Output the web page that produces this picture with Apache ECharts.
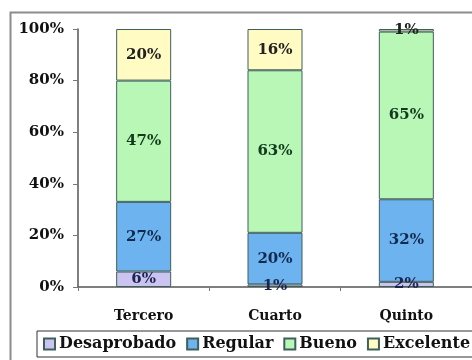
<!DOCTYPE html>
<html>
<head>
<meta charset="utf-8">
<script src="https://cdn.jsdelivr.net/npm/echarts@6/dist/echarts.min.js"></script>
<style>
  html, body { margin: 0; padding: 0; background: #fff; }
  #chart { width: 472px; height: 360px; }
</style>
</head>
<body>
<div id="chart"></div>
<script>
// Grade levels on the category axis
const categories = ['Tercero', 'Cuarto', 'Quinto'];

// Share of students per performance band (percent)
const desaprobado = [6, 1, 2];
const regular = [27, 20, 32];
const bueno = [47, 63, 65];
const excelente = [20, 16, 1];

const yTicks = { min: 0, max: 100, interval: 20 };

const serif = '"DejaVu Serif", "Liberation Serif", serif';

function band(name, data, fill, textColor) {
  return {
    name: name,
    type: 'bar',
    stack: 'total',
    data: data,
    barWidth: 55,
    itemStyle: { color: fill, borderColor: '#3f5f5c', borderWidth: 1 },
    label: {
      show: true,
      position: 'inside',
      formatter: '{c}%',
      fontFamily: serif,
      fontWeight: 'bold',
      fontSize: 15,
      color: textColor
    }
  };
}

const chart = echarts.init(document.getElementById('chart'));
chart.setOption({
  animation: false,
  backgroundColor: '#fff',
  graphic: [{
    type: 'rect',
    shape: { x: 10.5, y: 12.5, width: 480, height: 360 },
    style: { fill: 'none', stroke: '#8c8c8c', lineWidth: 2 },
    z: -1
  }],
  grid: { left: 78, right: -2, top: 29, bottom: 73 },
  legend: {
    left: 37,
    top: 331,
    width: 520,
    orient: 'horizontal',
    itemGap: 10,
    itemWidth: 11,
    itemHeight: 11,
    padding: [5, 8, 5, 6],
    borderColor: '#333',
    borderWidth: 1,
    icon: 'rect',
    textStyle: { fontFamily: serif, fontWeight: 'bold', fontSize: 16, color: '#111', padding: [0, 0, 0, -1] },
    data: ['Desaprobado', 'Regular', 'Bueno', 'Excelente']
  },
  xAxis: {
    type: 'category',
    data: categories,
    axisLine: { lineStyle: { color: '#555', width: 1.5 } },
    axisTick: { show: true, length: 4, lineStyle: { color: '#777' } },
    axisLabel: { fontFamily: serif, fontWeight: 'bold', fontSize: 14, color: '#111', margin: 22 }
  },
  yAxis: {
    type: 'value',
    min: yTicks.min,
    max: yTicks.max,
    interval: yTicks.interval,
    splitLine: { show: false },
    axisLine: { show: true, lineStyle: { color: '#555', width: 1.5 } },
    axisTick: { show: true, length: 5, lineStyle: { color: '#777' } },
    axisLabel: {
      formatter: '{value}%',
      fontFamily: serif,
      fontWeight: 'bold',
      fontSize: 15,
      color: '#111',
      margin: 14
    }
  },
  series: [
    band('Desaprobado', desaprobado, '#cbc3f0', '#1c2450'),
    band('Regular', regular, '#6db3ef', '#102a50'),
    band('Bueno', bueno, '#b9f7b7', '#123a1c'),
    band('Excelente', excelente, '#fffbc2', '#222')
  ]
});
</script>
</body>
</html>
